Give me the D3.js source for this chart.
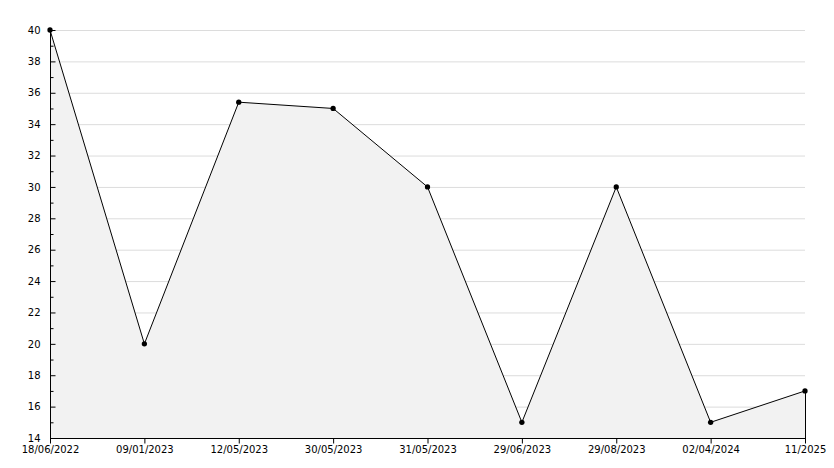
<!DOCTYPE html><html><head><meta charset="utf-8"><script src="https://d3js.org/d3.v7.min.js"></script>
<style>body{margin:0;background:#fff}text{font-family:"DejaVu Sans",sans-serif;font-size:10px;fill:#000}</style></head><body><svg width="834" height="468"></svg><script>
const categories=["18/06/2022","09/01/2023","12/05/2023","30/05/2023","31/05/2023","29/06/2023","29/08/2023","02/04/2024","11/2025"];
const values=[40,20,35.4,35,30,15,30,15,17];
const yTicks=[14,16,18,20,22,24,26,28,30,32,34,36,38,40];
const svg=d3.select("svg");
const L=50,R=805,T=30,B=438;
const x=d3.scalePoint().domain(categories).range([L,R]);
const y=d3.scaleLinear().domain([14,40]).range([B,T]);
svg.append("g").selectAll("line").data(yTicks.slice(1)).join("line").attr("x1",L).attr("x2",R).attr("y1",d=>y(d)+.5).attr("y2",d=>y(d)+.5).attr("stroke","#dcdcdc");
const area=d3.area().x((d,i)=>x(categories[i])).y0(B).y1(d=>y(d));
svg.append("path").datum(values).attr("d",area).attr("fill","#f2f2f2");
svg.append("line").attr("x1",R+.5).attr("x2",R+.5).attr("y1",y(values[8])).attr("y2",B).attr("stroke","#000");
svg.append("path").datum(values).attr("d",d3.line().x((d,i)=>x(categories[i])).y(d=>y(d))).attr("fill","none").attr("stroke","#000");
svg.append("g").selectAll("path").data(values).join("path").attr("transform",(d,i)=>`translate(${x(categories[i])},${y(d)})`).attr("d",d3.symbol(d3.symbolCircle,22)).attr("fill","#000");
const ya=svg.append("g").attr("transform",`translate(${L+.5},0)`).call(d3.axisLeft(y).tickValues(yTicks).tickSize(-5).tickPadding(10).tickFormat(d3.format("d")));
ya.select(".domain").attr("d",`M0,${T}V${B}`);
ya.selectAll("line").attr("stroke","#000");
ya.append("g").selectAll("line").data(d3.range(15,40,2)).join("line").attr("x1",0).attr("x2",3).attr("y1",d=>y(d)+.5).attr("y2",d=>y(d)+.5).attr("stroke","#000");
const xa=svg.append("g").attr("transform",`translate(0,${B+.5})`).call(d3.axisBottom(x).tickSize(5).tickPadding(2));
xa.select(".domain").attr("d",`M${L},0H${R+1}`);
xa.selectAll("text").attr("fill","#000");
ya.selectAll("text").attr("fill","#000");
svg.selectAll(".tick text").style("font-family","DejaVu Sans").style("font-size","10px");
</script></body></html>
